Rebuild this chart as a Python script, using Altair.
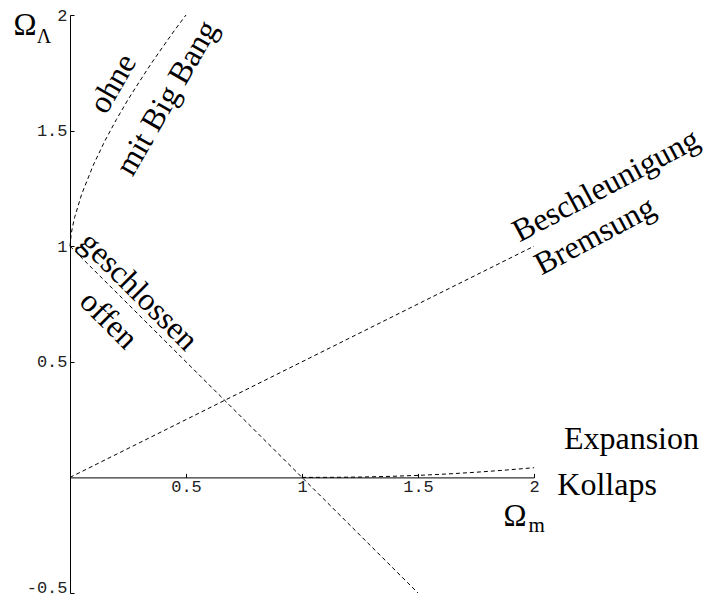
import altair as alt
import pandas as pd

# Curves
nobb_x = [0, 0.005, 0.01, 0.02, 0.05, 0.1, 0.15, 0.2, 0.25, 0.3, 0.35, 0.4, 0.45, 0.5]
nobb_y = [1.0, 1.051, 1.08, 1.125, 1.224, 1.35, 1.455, 1.548, 1.634, 1.713, 1.790, 1.862, 1.933, 2.0]
closed_x = [0, 1.5]
closed_y = [1, -0.5]
accel_x = [0, 2]
accel_y = [0, 1]
recoll_x = [1, 1.125, 1.25, 1.375, 1.5, 1.625, 1.75, 1.875, 2]
recoll_y = [0, 0.0002, 0.0015, 0.0043, 0.0087, 0.0147, 0.0223, 0.0314, 0.0419]

x_ticks = [0.5, 1, 1.5, 2]
y_ticks = [-0.5, 0.5, 1, 1.5, 2]

# Annotation labels
lab_text = ["ohne", "mit Big Bang", "geschlossen", "offen",
            "Beschleunigung", "Bremsung", "Expansion", "Kollaps"]
lab_x = [0.185, 0.418, 0.296, 0.167, 2.310, 2.262, 2.420, 2.315]
lab_y = [1.703, 1.642, 0.805, 0.681, 1.263, 1.045, 0.164, -0.034]
lab_angle = [300, 300, 45, 45, 332, 332, 0, 0]

# Axis symbols (main glyph + subscript)
sym_text = ["Ω", "Λ", "Ω", "m"]
sym_x = [-0.194, -0.112, 1.918, 2.012]
sym_y = [1.953, 1.903, -0.172, -0.211]
sym_size = [31, 20, 31, 21]

rows = []
for name, xs, ys in [("nobb", nobb_x, nobb_y), ("closed", closed_x, closed_y),
                     ("accel", accel_x, accel_y), ("recoll", recoll_x, recoll_y)]:
    for i, (a, b) in enumerate(zip(xs, ys)):
        rows.append({"series": name, "i": i, "x": a, "y": b})
curves = pd.DataFrame(rows)
labels = pd.DataFrame({"text": lab_text, "x": lab_x, "y": lab_y, "angle": lab_angle})
syms = pd.DataFrame({"text": sym_text, "x": sym_x, "y": sym_y, "size": sym_size})

PLOT_W = 464
PLOT_H = 578

xscale = alt.Scale(domain=[0, 2], nice=False, zero=False)
yscale = alt.Scale(domain=[-0.5, 2], nice=False, zero=False)

x_axis = alt.Axis(orient="bottom", offset=-PLOT_H * 0.5 / 2.5, values=x_ticks, grid=False,
                  tickSize={"expr": "-4"}, tickColor="black", domainColor="black",
                  labelFont="Liberation Mono", labelFontSize=17, labelColor="#222",
                  labelPadding=5, labelExpr="'' + datum.value", title=None,
                  labelFlush=False, labelOverlap=False)
y_axis = alt.Axis(orient="left", values=y_ticks, grid=False,
                  tickSize={"expr": "-4"}, tickColor="black", domainColor="black",
                  labelFont="Liberation Mono", labelFontSize=17, labelColor="#222",
                  labelPadding=7, labelExpr="'' + datum.value", title=None,
                  labelOffset={"condition": {"test": "datum.value < 0", "value": -6}, "value": 0},
                  labelFlush=False, labelOverlap=False)

lines = alt.Chart(curves).mark_line(color="black", strokeWidth=1, strokeDash=[4, 3]).encode(
    x=alt.X("x:Q", scale=xscale, axis=x_axis),
    y=alt.Y("y:Q", scale=yscale, axis=y_axis),
    detail="series:N",
    order="i:Q",
)

texts = alt.Chart(labels).mark_text(font="Liberation Serif", fontSize=32, color="black",
                                    align="center", baseline="middle").encode(
    x=alt.X("x:Q", scale=xscale),
    y=alt.Y("y:Q", scale=yscale),
    text="text:N",
    angle=alt.Angle("angle:Q", scale=None),
)

symbols = alt.Chart(syms).mark_text(font="Liberation Serif", color="black",
                                    align="center", baseline="middle").encode(
    x=alt.X("x:Q", scale=xscale),
    y=alt.Y("y:Q", scale=yscale),
    text="text:N",
    size=alt.Size("size:Q", scale=None),
)

chart = alt.layer(lines, texts, symbols).properties(
    width=PLOT_W, height=PLOT_H,
    background="white",
    autosize=alt.AutoSizeParams(type="none"),
    padding={"left": 62, "top": 7, "right": 170, "bottom": 5},
).configure_view(strokeWidth=0, stroke=None)

chart.save("out.html", embed_options={"renderer": "svg", "actions": False})
